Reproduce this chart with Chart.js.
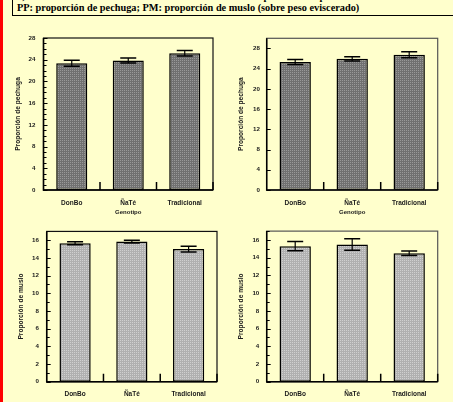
<!DOCTYPE html>
<html>
<head>
<meta charset="utf-8">
<script src="https://cdn.jsdelivr.net/npm/chart.js@4"></script>
<style>
  html, body { margin: 0; padding: 0; }
  body { width: 453px; height: 402px; overflow: hidden; position: relative; background: #FFFFCC; }
  #redbar { position: absolute; left: 0; top: 0; width: 3px; height: 402px; background: #FF0000; }
  #note {
    position: absolute; left: 12px; top: -9px; width: 470px; height: 23.5px;
    border-left: 1.5px solid #000; border-bottom: 1.5px solid #000;
    padding-left: 4px; white-space: nowrap;
    font: bold 10.3px "Liberation Serif", "Times New Roman", serif; line-height: 11px; color: #000;
  }
  canvas { position: absolute; }
  #cA { left: 0; top: 26px; }
  #cB { left: 226px; top: 26px; }
  #cC { left: 0; top: 220px; }
  #cD { left: 226px; top: 220px; }
</style>
</head>
<body>
<div id="redbar"></div>
<div id="note">a,b: Valores con diferente letra difieren al menos al 5 % para las comparaciones dentro de cada<br>PP: proporción de pechuga; PM: proporción de muslo (sobre peso eviscerado)</div>
<canvas id="cA" width="226" height="194"></canvas>
<canvas id="cB" width="227" height="194"></canvas>
<canvas id="cC" width="226" height="182"></canvas>
<canvas id="cD" width="227" height="182"></canvas>
<script>
// Genotypes on the x axis
const genotipos = ['DonBo', 'ÑaTé', 'Tradicional'];

// Breast proportion (%), two groups, with standard errors
const pechugaA = [23.35, 23.85, 25.2];
const pechugaAErr = [0.55, 0.45, 0.5];
const pechugaB = [25.3, 25.95, 26.75];
const pechugaBErr = [0.5, 0.42, 0.58];

// Thigh proportion (%), two groups, with standard errors
const musloA = [15.65, 15.85, 15.0];
const musloAErr = [0.17, 0.15, 0.33];
const musloB = [15.3, 15.5, 14.5];
const musloBErr = [0.52, 0.65, 0.25];

// Tick labels of the value axes
const pechugaTicks = [0, 4, 8, 12, 16, 20, 24, 28];
const musloTicks = [0, 2, 4, 6, 8, 10, 12, 14, 16];

const FONT = '"Liberation Sans", Arial, sans-serif';
const TEXT = '#1a1a1a';

// Dotted grey fill used for the bars
function dotted(base, dot) {
  const c = document.createElement('canvas');
  c.width = 2; c.height = 2;
  const g = c.getContext('2d');
  g.fillStyle = base; g.fillRect(0, 0, 2, 2);
  g.fillStyle = dot; g.fillRect(0, 0, 1, 1);
  return g.createPattern(c, 'repeat');
}

// Error bars drawn from the value scale
const errorBars = {
  id: 'errorBars',
  afterDatasetsDraw(chart, args, opts) {
    const ctx = chart.ctx, y = chart.scales.y;
    const meta = chart.getDatasetMeta(0);
    const vals = chart.data.datasets[0].data;
    ctx.save();
    ctx.strokeStyle = '#000';
    meta.data.forEach((bar, i) => {
      const hi = y.getPixelForValue(vals[i] + opts.err[i]);
      const lo = y.getPixelForValue(vals[i] - opts.err[i]);
      ctx.lineWidth = 1.2;
      ctx.beginPath(); ctx.moveTo(bar.x, hi); ctx.lineTo(bar.x, lo); ctx.stroke();
      ctx.lineWidth = 1.5;
      ctx.beginPath();
      ctx.moveTo(bar.x - 8, hi); ctx.lineTo(bar.x + 8, hi);
      ctx.moveTo(bar.x - 8, lo); ctx.lineTo(bar.x + 8, lo);
      ctx.stroke();
    });
    ctx.restore();
  }
};

// Plot frame, inward ticks and category separators
const frame = {
  id: 'frame',
  afterDraw(chart, args, opts) {
    const ctx = chart.ctx, a = chart.chartArea, y = chart.scales.y, x = chart.scales.x;
    ctx.save();
    ctx.strokeStyle = opts.color;
    ctx.lineWidth = 1.2;
    ctx.strokeRect(a.left, a.top, a.right - a.left, a.bottom - a.top);
    ctx.strokeStyle = '#000';
    ctx.lineWidth = 1.5;
    ctx.beginPath();
    ctx.moveTo(a.left, a.top); ctx.lineTo(a.left, a.bottom); ctx.lineTo(a.right, a.bottom);
    ctx.stroke();
    ctx.lineWidth = 1;
    ctx.beginPath();
    y.ticks.forEach(t => {
      const py = Math.round(y.getPixelForValue(t.value)) + 0.5;
      ctx.moveTo(a.left, py); ctx.lineTo(a.left + 4, py);
    });
    if (opts.minor) {
      for (let v = y.min; v <= y.max; v += opts.minor) {
        const py = Math.round(y.getPixelForValue(v)) + 0.5;
        ctx.moveTo(a.left, py); ctx.lineTo(a.left + 3, py);
      }
    }
    ctx.stroke();
    ctx.lineWidth = 1.5;
    ctx.beginPath();
    for (let i = 0; i < chart.data.labels.length; i++) {
      const px = x.getPixelForValue(i + 0.5);
      ctx.moveTo(px, a.bottom); ctx.lineTo(px, a.bottom - 8);
    }
    ctx.stroke();
    ctx.restore();
  }
};

function makeChart(id, cfg) {
  const ctx = document.getElementById(id).getContext('2d');
  return new Chart(ctx, {
    type: 'bar',
    data: {
      labels: genotipos,
      datasets: [{
        data: cfg.values,
        backgroundColor: cfg.fill,
        borderColor: '#000',
        borderWidth: 1.5,
        borderSkipped: false,
        barPercentage: 0.55,
        categoryPercentage: 1
      }]
    },
    options: {
      responsive: false,
      animation: false,
      devicePixelRatio: 1,
      layout: { padding: cfg.padding },
      plugins: {
        legend: { display: false },
        tooltip: { enabled: false },
        errorBars: { err: cfg.err },
        frame: { color: cfg.frameColor, minor: cfg.minor }
      },
      scales: {
        x: {
          grid: { display: false, drawTicks: false },
          border: { display: false },
          ticks: { color: TEXT, font: { family: FONT, size: 6.5, weight: 'bold' }, padding: cfg.xPad },
          title: {
            display: cfg.xTitle,
            text: 'Genotipo',
            color: TEXT,
            font: { family: FONT, size: 6, weight: 'bold' },
            padding: { top: 0, bottom: 4 }
          },
          afterFit(s) { s.height = cfg.xHeight; }
        },
        y: {
          min: 0,
          max: cfg.max,
          grid: { display: false, drawTicks: false },
          border: { display: false },
          ticks: { color: TEXT, font: { family: FONT, size: 6.2, weight: 'bold' }, padding: cfg.yPad },
          afterBuildTicks(s) { s.ticks = cfg.ticks.map(v => ({ value: v })); },
          title: {
            display: true,
            text: cfg.yTitle,
            color: TEXT,
            font: { family: FONT, size: 6.6, weight: 'bold' },
            padding: { top: cfg.yTitleX, bottom: 0 }
          },
          afterFit(s) { s.width = cfg.yWidth; }
        }
      }
    },
    plugins: [errorBars, frame]
  });
}

const darkFill = dotted('#707070', '#999999');
const lightFill = dotted('#b0b0b0', '#d0d0d0');

makeChart('cA', {
  values: pechugaA, err: pechugaAErr, fill: darkFill, max: 28, ticks: pechugaTicks, minor: 1,
  yTitle: 'Proporción de pechuga', xTitle: true, frameColor: '#111',
  padding: { left: 0, top: 12, right: 13, bottom: 0 }, yWidth: 43.5, xHeight: 30,
  yPad: 8, xPad: 9, yTitleX: 14
});

makeChart('cB', {
  values: pechugaB, err: pechugaBErr, fill: darkFill, max: 30, ticks: pechugaTicks, minor: 0,
  yTitle: 'Proporción de pechuga', xTitle: true, frameColor: '#555',
  padding: { left: 0, top: 12.3, right: 15.3, bottom: 0 }, yWidth: 40.7, xHeight: 30,
  yPad: 6.7, xPad: 9, yTitleX: 11.6
});

makeChart('cC', {
  values: musloA, err: musloAErr, fill: lightFill, max: 17, ticks: musloTicks, minor: 1,
  yTitle: 'Proporción de muslo', xTitle: false, frameColor: '#111',
  padding: { left: 0, top: 10, right: 9, bottom: 0 }, yWidth: 46.7, xHeight: 20.3,
  yPad: 7.7, xPad: 9, yTitleX: 17.6
});

makeChart('cD', {
  values: musloB, err: musloBErr, fill: lightFill, max: 17, ticks: musloTicks, minor: 1,
  yTitle: 'Proporción de muslo', xTitle: false, frameColor: '#555',
  padding: { left: 0, top: 10.7, right: 15.3, bottom: 0 }, yWidth: 40.7, xHeight: 20.3,
  yPad: 7.4, xPad: 9, yTitleX: 11
});
</script>
</body>
</html>
